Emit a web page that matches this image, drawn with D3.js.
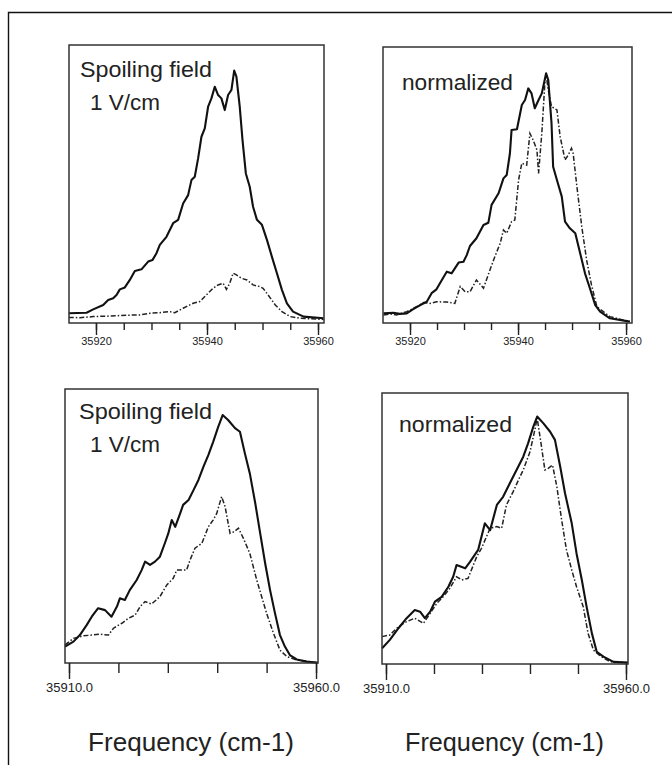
<!DOCTYPE html>
<html><head><meta charset="utf-8">
<script src="https://cdn.jsdelivr.net/npm/d3@7"></script>
<style>body{margin:0;background:#fff}svg{display:block}</style>
</head><body>
<svg id="c" width="672" height="765"></svg>
<script>
// ---- data: [frequency (cm-1), intensity (arb., % of panel)] ----
const tlSolid = [[35915.1,3.5],[35918.3,3.7],[35919.5,4.9],[35921.3,6.5],[35922.2,8.3],[35923.1,8.9],[35923.7,10.1],[35924.3,12.1],[35925.2,12.8],[35926.1,15.5],[35927.0,18.7],[35928.2,19.3],[35929.4,22.1],[35930.2,22.7],[35930.9,25.1],[35931.5,28.1],[35932.7,31.0],[35933.9,35.9],[35934.8,37.1],[35935.7,43.0],[35936.6,46.0],[35937.2,51.4],[35937.8,52.6],[35938.4,59.2],[35939.0,67.0],[35939.6,70.0],[35940.2,77.8],[35940.8,80.8],[35941.4,85.0],[35942.0,82.0],[35942.6,80.8],[35943.2,76.6],[35943.8,82.0],[35944.4,83.8],[35944.9,90.8],[35945.3,88.6],[35945.9,77.8],[35946.4,65.8],[35947.0,53.8],[35947.7,49.0],[35948.3,41.8],[35949.0,37.1],[35949.9,35.3],[35950.8,29.9],[35951.7,23.8],[35952.6,17.9],[35953.5,11.9],[35954.4,7.1],[35955.5,4.1],[35957.4,2.3],[35961.0,1.7]];
const tlDash = [[35915.1,2.0],[35917.1,1.9],[35919.5,2.3],[35922.5,2.5],[35925.5,2.8],[35927.9,2.9],[35929.7,3.5],[35931.5,3.7],[35933.3,4.1],[35934.2,3.7],[35935.7,5.3],[35937.5,7.1],[35938.7,7.7],[35939.9,10.1],[35941.1,12.5],[35942.0,13.7],[35942.9,14.3],[35943.5,12.1],[35944.1,14.3],[35944.7,17.9],[35945.3,17.3],[35946.2,16.1],[35947.2,15.5],[35948.3,13.7],[35949.5,13.1],[35950.1,12.5],[35951.0,10.1],[35952.3,6.5],[35953.5,4.1],[35955.0,2.3],[35956.8,1.7],[35961.0,1.3]];
const trSolid = [[35915.1,3.5],[35916.9,3.7],[35918.1,3.3],[35919.4,3.5],[35920.6,5.0],[35921.9,6.5],[35923.1,7.7],[35924.0,10.8],[35924.9,12.2],[35925.9,15.6],[35926.8,18.6],[35927.7,18.0],[35929.0,21.9],[35929.9,22.2],[35930.5,24.6],[35931.1,27.9],[35932.3,30.7],[35933.6,35.5],[35934.5,36.3],[35935.1,42.8],[35936.4,47.0],[35937.3,52.4],[35937.9,53.6],[35938.5,61.5],[35938.8,69.9],[35939.8,70.2],[35940.7,79.0],[35941.3,80.8],[35941.9,85.0],[35942.5,83.2],[35943.1,77.8],[35943.8,80.8],[35944.4,83.2],[35945.2,90.5],[35945.6,88.0],[35946.2,72.4],[35946.5,56.6],[35947.2,51.8],[35948.1,45.8],[35948.7,36.7],[35949.6,34.3],[35950.6,32.5],[35951.5,25.3],[35952.4,18.0],[35953.3,12.6],[35954.3,6.5],[35955.2,4.1],[35957.0,1.7],[35960.7,0.5]];
const trDash = [[35915.1,2.9],[35916.3,3.3],[35917.5,2.9],[35919.4,4.1],[35921.2,5.9],[35922.5,7.4],[35923.7,7.1],[35924.9,7.7],[35926.8,7.6],[35928.3,7.1],[35929.3,13.2],[35930.2,11.3],[35931.1,11.3],[35932.3,15.6],[35933.6,12.6],[35934.8,19.2],[35935.7,24.0],[35936.7,28.9],[35937.3,33.7],[35937.9,32.5],[35938.8,36.7],[35939.4,37.3],[35940.1,51.8],[35940.7,57.9],[35941.6,57.2],[35942.2,68.7],[35942.8,66.3],[35943.5,62.7],[35943.8,54.2],[35944.4,68.7],[35945.0,88.0],[35945.2,89.9],[35945.6,84.4],[35946.2,78.4],[35947.2,77.2],[35947.8,67.5],[35948.7,59.1],[35949.3,60.9],[35949.9,63.3],[35950.2,61.5],[35950.9,49.4],[35951.8,34.9],[35952.7,22.8],[35953.6,13.8],[35954.6,5.9],[35955.8,4.1],[35957.0,2.3],[35960.7,0.5]];
const blSolid = [[35909.2,6.0],[35910.9,7.8],[35912.2,10.2],[35913.6,13.9],[35914.6,16.9],[35915.9,20.0],[35917.3,19.3],[35918.6,16.9],[35919.7,20.6],[35920.3,23.6],[35921.3,23.0],[35922.3,26.6],[35923.7,30.3],[35924.7,33.9],[35925.4,37.0],[35926.4,35.8],[35927.4,37.0],[35928.4,38.8],[35929.4,43.7],[35930.1,47.3],[35930.8,52.2],[35931.5,49.7],[35932.5,54.6],[35933.1,57.7],[35934.2,59.5],[35935.2,63.1],[35936.2,66.8],[35937.2,71.6],[35938.2,75.9],[35939.2,80.8],[35940.2,86.2],[35941.1,90.5],[35942.2,88.7],[35943.6,85.7],[35944.6,84.4],[35945.6,76.5],[35946.6,69.2],[35947.7,58.3],[35948.7,47.3],[35949.7,36.4],[35950.7,26.6],[35951.7,18.1],[35952.7,10.2],[35953.7,6.0],[35954.7,2.9],[35956.1,1.3],[35958.1,0.5],[35960.4,0.1]];
const blDash = [[35909.2,6.6],[35910.9,9.0],[35912.9,9.9],[35914.6,10.2],[35916.3,10.5],[35918.0,10.2],[35919.0,12.7],[35920.7,14.5],[35922.0,16.3],[35923.4,17.5],[35924.4,20.6],[35925.4,22.4],[35926.7,21.5],[35928.4,24.2],[35929.8,28.5],[35931.1,30.9],[35931.8,33.9],[35933.8,33.9],[35934.5,37.6],[35935.5,41.9],[35936.9,43.7],[35938.2,49.7],[35939.2,52.2],[35939.9,54.6],[35940.6,58.9],[35940.9,60.7],[35941.6,57.0],[35942.6,47.3],[35943.4,47.9],[35944.3,49.2],[35945.3,45.5],[35946.6,40.0],[35948.0,30.3],[35949.0,24.2],[35950.0,18.1],[35951.4,10.8],[35952.7,4.7],[35954.1,2.3],[35956.1,1.1],[35960.4,0.1]];
const brSolid = [[35909.2,5.8],[35910.8,8.9],[35912.6,13.2],[35914.3,16.9],[35916.0,19.9],[35917.1,19.3],[35918.1,16.9],[35919.2,19.3],[35920.2,23.0],[35921.6,24.8],[35923.0,28.5],[35924.0,32.2],[35924.7,36.5],[35926.5,35.3],[35927.5,37.7],[35929.2,42.1],[35929.9,47.0],[35930.6,51.9],[35931.7,49.4],[35933.1,58.7],[35934.4,61.7],[35935.8,66.7],[35937.2,71.6],[35938.6,76.5],[35939.6,81.4],[35940.7,87.6],[35941.5,91.3],[35942.8,88.8],[35944.2,85.7],[35945.2,82.7],[35946.3,72.8],[35947.3,63.0],[35948.7,51.9],[35949.7,40.8],[35950.8,31.0],[35951.8,21.1],[35952.9,11.3],[35953.9,4.5],[35955.3,2.7],[35957.4,0.8],[35960.4,0.5]];
const brDash = [[35909.2,10.1],[35910.8,10.7],[35912.6,13.8],[35914.3,15.6],[35916.0,16.9],[35917.8,15.0],[35919.2,18.7],[35920.6,22.4],[35921.9,24.8],[35923.3,27.9],[35924.7,32.2],[35925.8,31.0],[35927.1,31.6],[35928.9,39.6],[35929.9,42.7],[35931.7,50.1],[35933.1,50.7],[35934.1,50.1],[35935.1,58.7],[35936.5,63.6],[35937.6,67.9],[35938.6,71.6],[35940.0,78.3],[35941.0,86.3],[35941.5,90.7],[35942.4,80.2],[35943.1,71.6],[35943.8,72.2],[35944.7,73.4],[35945.6,65.4],[35946.6,53.1],[35947.6,42.1],[35948.7,34.7],[35949.7,28.5],[35951.1,21.1],[35952.1,11.3],[35953.2,5.2],[35954.6,3.0],[35956.7,0.8],[35960.4,0.5]];

const topMinorTicks = [35920,35925,35930,35935,35940,35945,35950,35955,35960];
const topMajorTicks = [35920,35940,35960];
const bottomMinorTicks = [35910,35920,35930,35940,35950,35960];
const bottomMajorTicks = [35910,35960];
const bottomTickLabels = ["35910.0","35960.0"];
const spoilTitle = ["Spoiling field","1 V/cm"];
const normTitle = ["normalized"];
const xAxisTitle = "Frequency (cm-1)";

// ---- layout ----
const FONT = "'Liberation Sans', Arial, Helvetica, sans-serif";
const panels = [
  {x0:69, x1:324, y0:45, y1:323, dom:[35915.14,35961.08], solid:tlSolid, dash:tlDash, minor:topMinorTicks, major:topMajorTicks, fmt:d=>String(d), minorLen:7, majorLen:12, pad:2, lblSize:11, title:spoilTitle, tx:[80,90], ty:[77,110], tlen:[132,70]},
  {x0:383, x1:632, y0:47, y1:323, dom:[35915.0,35961.1], solid:trSolid, dash:trDash, minor:topMinorTicks, major:topMajorTicks, fmt:d=>String(d), minorLen:7, majorLen:12, pad:2, lblSize:11, title:normTitle, tx:[402], ty:[90], tlen:[111]},
  {x0:65, x1:318, y0:389, y1:663, dom:[35909.19,35960.4], solid:blSolid, dash:blDash, minor:bottomMinorTicks, major:bottomMajorTicks, fmt:(d,i)=>bottomTickLabels[i], minorLen:10, majorLen:16, pad:4, lblSize:13, title:spoilTitle, tx:[79,90], ty:[419,452], tlen:[133,70]},
  {x0:382, x1:628, y0:393, y1:664, dom:[35909.17,35960.42], solid:brSolid, dash:brDash, minor:bottomMinorTicks, major:bottomMajorTicks, fmt:(d,i)=>bottomTickLabels[i], minorLen:10, majorLen:16, pad:4, lblSize:13, title:normTitle, tx:[399], ty:[432], tlen:[113]}
];

const svg = d3.select("#c");
svg.append("rect").attr("width",672).attr("height",765).attr("fill","#fff");
// outer frame (left and top edges visible)
svg.append("path").attr("d","M8.5,765 L8.5,12.5 L672,12.5").attr("fill","none").attr("stroke","#111").attr("stroke-width",1.4);

panels.forEach(p => {
  const x = d3.scaleLinear().domain(p.dom).range([p.x0, p.x1]);
  const y = d3.scaleLinear().domain([0,100]).range([p.y1, p.y0]);
  const g = svg.append("g");
  const line = d3.line().x(d=>x(d[0])).y(d=>y(d[1]));

  g.append("path").datum(p.dash).attr("d",line).attr("fill","none")
    .attr("stroke","#222").attr("stroke-width",1.5).attr("stroke-dasharray","5,2,1.5,2");
  g.append("path").datum(p.solid).attr("d",line).attr("fill","none")
    .attr("stroke","#111").attr("stroke-width",2.1).attr("stroke-linejoin","round");

  // frame
  g.append("rect").attr("x",p.x0).attr("y",p.y0).attr("width",p.x1-p.x0).attr("height",p.y1-p.y0)
    .attr("fill","none").attr("stroke","#333").attr("stroke-width",1.5);

  // ticks
  const minorAx = d3.axisBottom(x).tickValues(p.minor).tickSize(p.minorLen).tickFormat("");
  const gm = g.append("g").attr("transform",`translate(0,${p.y1})`).call(minorAx);
  gm.select(".domain").remove();
  gm.selectAll(".tick line").attr("stroke","#222").attr("stroke-width",1.4);
  const majorAx = d3.axisBottom(x).tickValues(p.major).tickSize(p.majorLen).tickPadding(p.pad).tickFormat(p.fmt);
  const gM = g.append("g").attr("transform",`translate(0,${p.y1})`).call(majorAx);
  gM.select(".domain").remove();
  gM.selectAll(".tick line").attr("stroke","#222").attr("stroke-width",1.4);
  gM.selectAll(".tick text").attr("font-family",FONT).attr("font-size",p.lblSize).attr("fill","#222");

  // titles
  p.title.forEach((t,i) => {
    g.append("text").attr("x",p.tx[i]).attr("y",p.ty[i]).text(t)
      .attr("font-family",FONT).attr("font-size",21.5).attr("fill","#222")
      .attr("textLength",p.tlen[i]).attr("lengthAdjust","spacingAndGlyphs");
  });
});

// x axis titles
[[88,206],[405,199]].forEach(([xx,len]) => {
  svg.append("text").attr("x",xx).attr("y",751).text(xAxisTitle)
    .attr("font-family",FONT).attr("font-size",25).attr("fill","#222")
    .attr("textLength",len).attr("lengthAdjust","spacingAndGlyphs");
});
</script>
</body></html>
